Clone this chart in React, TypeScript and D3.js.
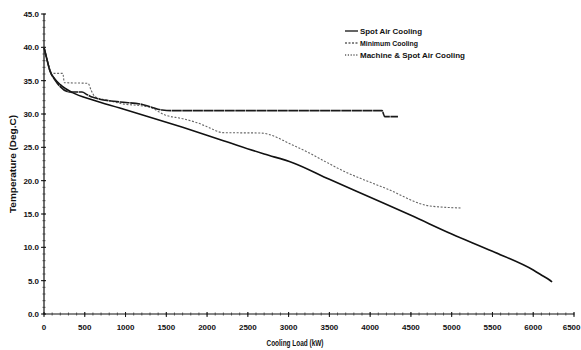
import React from "react";
import * as d3 from "d3";

const xTicks = [0, 500, 1000, 1500, 2000, 2500, 3000, 3500, 4000, 4500, 5000, 5500, 6000, 6500];
const yTicks = [0, 5, 10, 15, 20, 25, 30, 35, 40, 45];
const seriesNames = ["Spot Air Cooling", "Minimum Cooling", "Machine & Spot Air Cooling"];

const spotAir: [number, number][] = [
  [0, 40], [30, 38.5], [75, 36.4], [130, 35.3], [200, 34.4], [350, 33.2], [600, 32.1],
  [930, 30.9], [1200, 29.9], [1700, 28.0], [2200, 26.0], [2700, 24.0], [3050, 22.7],
  [3500, 20.2], [4000, 17.5], [4500, 14.8], [5000, 12.0], [5500, 9.4], [6000, 6.6],
  [6120, 5.7], [6200, 5.1], [6230, 4.8],
];
const minimum: [number, number][] = [
  [0, 40], [30, 38.5], [75, 36.6], [100, 36.1], [230, 36.1], [250, 34.7], [540, 34.6],
  [580, 33.5], [625, 32.6], [800, 32.0], [932, 31.6], [1300, 31.0], [1484, 29.85],
  [1700, 29.3], [1876, 28.7], [2000, 28.1], [2195, 27.2], [2650, 27.15], [3100, 25.05],
  [3716, 21.2], [4200, 18.8], [4734, 16.2], [5127, 15.9],
];
const machineSpot: [number, number][] = [
  [0, 40], [30, 38.5], [75, 36.4], [135, 35.1], [319, 33.3], [466, 33.3], [530, 32.9],
  [600, 32.5], [932, 31.8], [1177, 31.5], [1300, 31.1], [1450, 30.6], [1600, 30.5],
  [4145, 30.5], [4180, 29.6], [4341, 29.6],
];

const W = 581, H = 350;

export default function App() {
  const x = d3.scaleLinear().domain([0, 6500]).range([44, 574]);
  const y = d3.scaleLinear().domain([0, 45]).range([314, 14]);
  const line = d3.line<[number, number]>().x(d => x(d[0])).y(d => y(d[1])).curve(d3.curveMonotoneX);
  const xMinor = d3.range(0, 6501, 100);
  const yMinor = d3.range(0, 45.01, 1);
  const font = "'Liberation Sans', Arial, sans-serif";
  const styles = [
    { stroke: "#111", width: 1.6, dash: undefined as string | undefined },
    { stroke: "#666", width: 1.1, dash: "2,1.6" },
    { stroke: "#1a1a1a", width: 1.6, dash: "10,0.6" },
  ];
  const data = [spotAir, minimum, machineSpot];
  const legendSample = ["", "2,1.5", "1.2,1.6"];
  const legendLen = [62, 58, 105];
  return (
    <svg width={W} height={H} style={{ position: "absolute", left: 0, top: 0, background: "#fff" }} fontFamily={font}>
      <rect width={W} height={H} fill="#fff" />
      <line x1={x(0)} x2={x(0)} y1={y(45)} y2={y(0)} stroke="#111" strokeWidth={1.2} />
      <line x1={x(0)} x2={x(6500)} y1={y(0)} y2={y(0)} stroke="#111" strokeWidth={1.2} />
      {yMinor.map(v => (
        <line key={"ym" + v} x1={x(0) - 1.5} x2={x(0) + 1.5} y1={y(v)} y2={y(v)} stroke="#333" strokeWidth={0.8} />
      ))}
      {xMinor.map(v => (
        <line key={"xm" + v} x1={x(v)} x2={x(v)} y1={y(0) - 1.5} y2={y(0) + 1.5} stroke="#333" strokeWidth={0.8} />
      ))}
      {yTicks.map(v => (
        <g key={"yt" + v}>
          <line x1={x(0) - 3} x2={x(0) + 2} y1={y(v)} y2={y(v)} stroke="#111" strokeWidth={1} />
          <text x={39} y={y(v) + 3} textAnchor="end" fontSize={8} fontWeight="bold" fill="#111">{v.toFixed(1)}</text>
        </g>
      ))}
      {xTicks.map((v, i) => (
        <g key={"xt" + v}>
          <line x1={x(v)} x2={x(v)} y1={y(0) - 2} y2={y(0) + 3} stroke="#111" strokeWidth={1} />
          <text x={i === xTicks.length - 1 ? W - 0.5 : x(v)} y={330} textAnchor={i === xTicks.length - 1 ? "end" : "middle"} fontSize={8} fontWeight="bold" fill="#111">{v}</text>
        </g>
      ))}
      <text x={295} y={346} textAnchor="middle" fontSize={9.5} fontWeight="bold" fill="#111" textLength={57} lengthAdjust="spacingAndGlyphs">Cooling Load (kW)</text>
      <text transform={`translate(16,164) rotate(-90)`} textAnchor="middle" fontSize={9.5} fontWeight="bold" fill="#111" textLength={98} lengthAdjust="spacingAndGlyphs">Temperature (Deg.C)</text>
      {data.map((d, i) => (
        <path key={"s" + i} d={line(d) || ""} fill="none" stroke={styles[i].stroke} strokeWidth={styles[i].width} strokeDasharray={styles[i].dash} strokeLinejoin="round" />
      ))}
      {seriesNames.map((n, i) => (
        <g key={"lg" + i} transform={`translate(345, ${31 + i * 12})`}>
          <line x1={0} x2={13} y1={0} y2={0} stroke="#111" strokeWidth={i === 0 ? 1.3 : 1} strokeDasharray={legendSample[i] || undefined} />
          <text x={15} y={2.8} fontSize={7.5} fontWeight="bold" fill="#111" textLength={legendLen[i]} lengthAdjust="spacingAndGlyphs">{n}</text>
        </g>
      ))}
    </svg>
  );
}
